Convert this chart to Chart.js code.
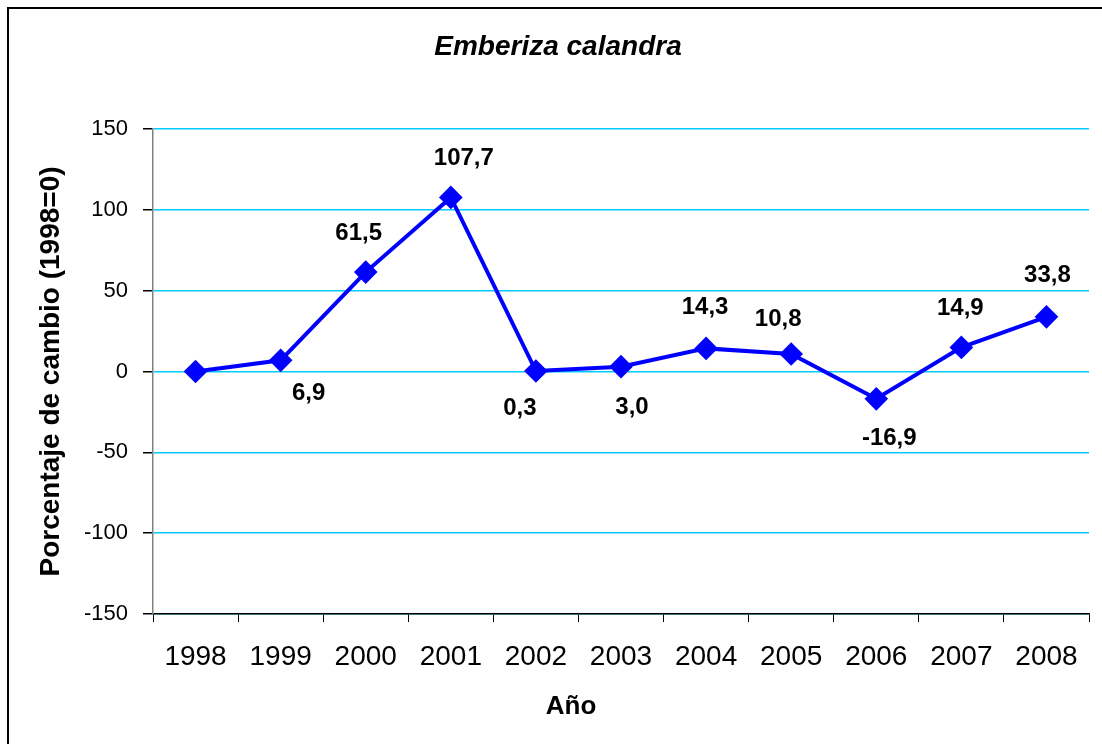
<!DOCTYPE html>
<html>
<head>
<meta charset="utf-8">
<script src="https://cdn.jsdelivr.net/npm/chart.js@4/dist/chart.umd.min.js"></script>
<style>
  body { margin: 0; background: #ffffff; }
  #box { width: 1102px; height: 744px; }
</style>
</head>
<body>
<div id="box"><canvas id="myChart" width="1102" height="744"></canvas></div>
<script>
// dane
var tytul = "Emberiza calandra";
var tytulX = "Año";
var anos = ["1998", "1999", "2000", "2001", "2002", "2003", "2004", "2005", "2006", "2007", "2008"];
var cambio = [0, 6.9, 61.5, 107.7, 0.3, 3.0, 14.3, 10.8, -16.9, 14.9, 33.8];
var etiquetas = ["", "6,9", "61,5", "107,7", "0,3", "3,0", "14,3", "10,8", "-16,9", "14,9", "33,8"];
var yTicks = [-150, -100, -50, 0, 50, 100, 150];

// przesuniecia etykiet wzgledem punktu
var przesuniecia = [[0, 0], [28, 33], [-7, -39], [13, -39], [-16, 37], [11, 41], [-1, -41], [-13, -35], [13, 40], [-1, -39], [1, -41]];

var FONT = "'Liberation Sans', Arial, sans-serif";

var ramka = {
  id: "ramka",
  beforeDraw: function(chart) {
    var c = chart.ctx;
    c.save();
    c.fillStyle = "#ffffff";
    c.fillRect(0, 0, chart.width, chart.height);
    c.strokeStyle = "#000000";
    c.lineWidth = 2;
    c.strokeRect(8, 8, chart.width + 20, chart.height + 20);
    c.fillStyle = "#000000";
    c.textAlign = "center";
    c.textBaseline = "middle";
    // tytul
    c.font = "italic bold 28px " + FONT;
    c.fillText(tytul, chart.width / 2 + 7, 47);
    // tytul osi x
    c.font = "bold 26px " + FONT;
    c.fillText(tytulX, chart.width / 2 + 20, 707);
    c.restore();
  }
};

var etykiety = {
  id: "etykiety",
  afterDatasetsDraw: function(chart) {
    var c = chart.ctx;
    var meta = chart.getDatasetMeta(0);
    c.save();
    c.font = "bold 24px " + FONT;
    c.fillStyle = "#000000";
    c.textAlign = "center";
    c.textBaseline = "middle";
    meta.data.forEach(function(p, i) {
      if (!etiquetas[i]) return;
      c.fillText(etiquetas[i], p.x + przesuniecia[i][0], p.y + przesuniecia[i][1]);
    });
    c.restore();
  }
};

var ctx = document.getElementById("myChart").getContext("2d");
var chart = new Chart(ctx, {
  type: "line",
  data: {
    labels: anos,
    datasets: [
      {
        data: cambio,
        borderColor: "#0000ff",
        backgroundColor: "#0000ff",
        borderWidth: 4,
        pointStyle: "rectRot",
        pointRadius: 9,
        pointHoverRadius: 9,
        tension: 0,
        fill: false
      }
    ]
  },
  options: {
    responsive: false,
    animation: false,
    layout: { padding: { left: 0, right: 12, top: 129, bottom: 0 } },
    plugins: {
      legend: { display: false },
      tooltip: { enabled: false },
      title: { display: false }
    },
    scales: {
      x: {
        offset: true,
        grid: { display: true, drawOnChartArea: false, offset: true, tickLength: 8, color: "#000000", tickColor: "#000000" },
        border: { display: true, color: "#000000", width: 1.5 },
        ticks: {
          color: "#000000",
          padding: 18,
          maxRotation: 0,
          font: { family: FONT, size: 28 }
        },
        title: { display: false },
        afterFit: function(scale) { scale.height = 130; }
      },
      y: {
        min: -150,
        max: 150,
        afterBuildTicks: function(scale) {
          scale.ticks = yTicks.map(function(v) { return { value: v }; });
        },
        grid: { color: "#00ccff", lineWidth: 1.5, tickLength: 10, tickColor: "#000000" },
        border: { display: true, color: "#808080", width: 1.5 },
        ticks: {
          color: "#000000",
          padding: 15,
          font: { family: FONT, size: 22 }
        },
        title: {
          display: true,
          text: "Porcentaje de cambio (1998=0)",
          color: "#000000",
          font: { family: FONT, size: 28, weight: "bold" },
          padding: { top: 34, bottom: 0 }
        },
        afterFit: function(scale) { scale.width = 153; }
      }
    }
  },
  plugins: [ramka, etykiety]
});
</script>
</body>
</html>
